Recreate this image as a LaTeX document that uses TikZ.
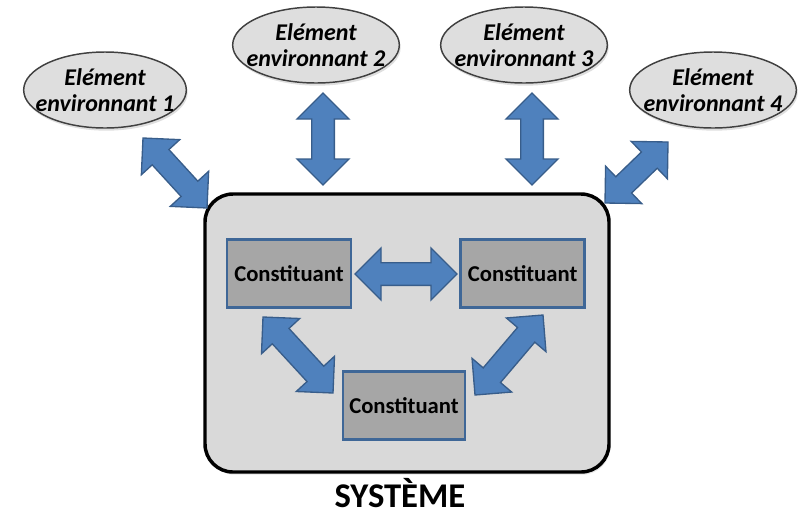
\documentclass[tikz,border=0pt]{standalone}
\usepackage{fontspec}
\setmainfont{Carlito}
\usepackage{tikz}
\usetikzlibrary{calc}
\usetikzlibrary{positioning}
\usetikzlibrary{shapes.geometric}
\usetikzlibrary{shadows}
\usepackage{xcolor}
\definecolor{arrowblue}{HTML}{4F81BD}
\definecolor{arrowedge}{HTML}{385D8A}
\definecolor{partgray}{HTML}{A6A6A6}
\definecolor{partedge}{HTML}{3F6797}
\definecolor{sysgray}{HTML}{D9D9D9}
\definecolor{envgray}{HTML}{DEDEDE}
\tikzset{
env/.style={ellipse,
  draw=black!75,
    line width=1.1pt,
    fill=envgray,
    minimum width=125pt,
    minimum height=57pt,
    drop shadow={opacity=0.25,shadow xshift=1pt,shadow yshift=-2pt}},
envtext/.style={align=center,
  font=\bfseries\itshape\fontsize{18}{19}\selectfont},
part/.style={draw=partedge,
  line width=2.2pt,
    fill=partgray,
    minimum width=93pt,
    minimum height=51pt,
    font=\bfseries\fontsize{17}{19}\selectfont},
barrow/.style={fill=arrowblue,
  draw=arrowedge,
    line width=1pt},
}
% block arrow between two named coordinates
\newcommand{\blockarrow}[2]{%
  \draw [barrow] (#1)
    -- ($(#1)!19.5pt!(#2)!19.5pt!90:(#2)$)
    -- ($(#1)!19.5pt!(#2)!8.5pt!90:(#2)$)
    -- ($(#2)!19.5pt!(#1)!8.5pt!-90:(#1)$)
    -- ($(#2)!19.5pt!(#1)!19.5pt!-90:(#1)$)
    -- (#2)
    -- ($(#2)!19.5pt!(#1)!19.5pt!90:(#1)$)
    -- ($(#2)!19.5pt!(#1)!8.5pt!90:(#1)$)
    -- ($(#1)!19.5pt!(#2)!8.5pt!-90:(#2)$)
    -- ($(#1)!19.5pt!(#2)!19.5pt!-90:(#2)$)
    -- cycle;}
\begin{document}
\begin{tikzpicture}[x=0.75pt,y=-0.75pt]
  \useasboundingbox (0,0) rectangle (805,515);

  % Environment
  \node [env, minimum width=122pt, label={[envtext]center:Elément\\environnant 1}] (e1) at (105,90) {};
  \node [env, label={[envtext]center:Elément\\environnant 2}] (e2) at (316,45) {};
  \node [env, label={[envtext]center:Elément\\environnant 3}] (e3) at (524,45) {};
  \node [env, label={[envtext]center:Elément\\environnant 4}] (e4) at (713,90) {};

  % System
  \node [draw, line width=2.6pt, fill=sysgray, rounded corners=21pt,
    minimum width=303pt, minimum height=208.5pt,
    drop shadow={opacity=0.2,shadow xshift=1pt,shadow yshift=-2pt}] (sys) at (407,333) {};
  \node [font=\bfseries\fontsize{26}{28}\selectfont, inner sep=0pt, anchor=base] (syslabel) at (400,507) {SYSTÈME};

  % Constituants
  \node [part] (c1) at (289,273.5) {Constituant};
  \node [part, right=80pt of c1] (c2) {Constituant};
  \node [part, minimum width=91.5pt] (c3) at (404,405.5) {Constituant};

  % Arrow ends
  \coordinate (a1s) at (143,138);
  \coordinate (a1t) at (207,208);
  \coordinate (a2s) at (323,93);
  \coordinate (a2t) at (323,185);
  \coordinate (a3s) at (532,93);
  \coordinate (a3t) at (532,185);
  \coordinate (a4s) at (668,142);
  \coordinate (a4t) at (605,203);
  \coordinate (hs) at (355,274);
  \coordinate (ht) at (457,274);
  \coordinate (d1s) at (263,317);
  \coordinate (d1t) at (333,393);
  \coordinate (d2s) at (543,315);
  \coordinate (d2t) at (475,395);

  % Arrows
  \blockarrow{a1s}{a1t}
  \blockarrow{a2s}{a2t}
  \blockarrow{a3s}{a3t}
  \blockarrow{a4s}{a4t}
  \blockarrow{hs}{ht}
  \blockarrow{d1s}{d1t}
  \blockarrow{d2s}{d2t}
\end{tikzpicture}
\end{document}
